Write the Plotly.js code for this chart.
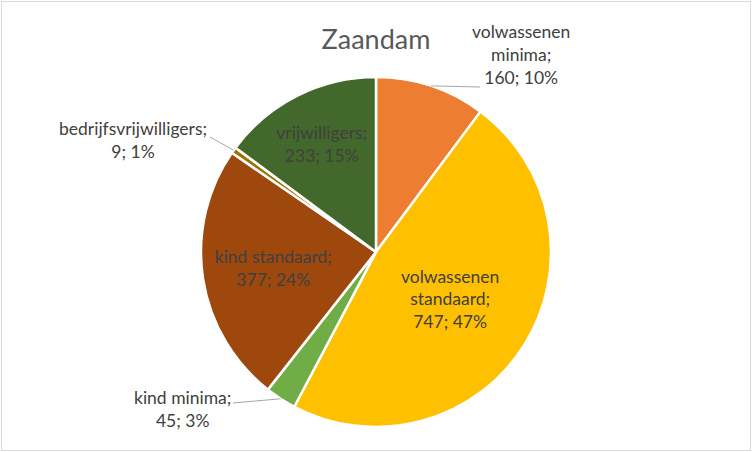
<!DOCTYPE html>
<html>
<head>
<meta charset="utf-8">
<script src="https://cdn.plot.ly/plotly-3.0.1.min.js"></script>
<style>
  html, body { margin: 0; padding: 0; background: #fff; }
  #wrap { position: relative; width: 752px; height: 452px; }
  #chart { width: 752px; height: 452px; }
  #frame { position: absolute; left: 1px; top: 1px; width: 748px; height: 448px; border: 1px solid #D9D9D9; pointer-events: none; }
</style>
</head>
<body>
<div id="wrap"><div id="chart"></div><div id="frame"></div></div>
<script>
const categories = ["volwassenen minima", "volwassenen standaard", "kind minima", "kind standaard", "bedrijfsvrijwilligers", "vrijwilligers"];
const values = [160, 747, 45, 377, 9, 233];
const percentLabels = ["10%", "47%", "3%", "24%", "1%", "15%"];
const labelLines = [
  ["volwassenen", "minima;"],
  ["volwassenen", "standaard;"],
  ["kind minima;"],
  ["kind standaard;"],
  ["bedrijfsvrijwilligers;"],
  ["vrijwilligers;"]
];
const colors = ["#ED7D31", "#FFC000", "#70AD47", "#9E480E", "#997300", "#43682B"];
const insideSlices = [false, true, false, true, false, true];

const W = 752, H = 452, mT = 77, mB = 25;
const plotH = H - mT - mB;
const cx = W / 2, cy = mT + plotH / 2, R = plotH / 2;
const FONT = "Lato, Carlito, sans-serif";

const fullText = categories.map((c, i) => labelLines[i].join("<br>") + "<br>" + values[i] + "; " + percentLabels[i]);

// outside label placement (text centre in px) and leader end (px)
const outsideCfg = {
  0: { tx: 521, ty: 54, ex: 480, ey: 87 },
  2: { tx: 182, ty: 409, ex: 233, ey: 403 },
  4: { tx: 133, ty: 140, ex: 210, ey: 137 }
};

const total = values.reduce((a, b) => a + b, 0);
const toPX = x => x / W;
const toPY = y => (H - mB - y) / plotH;

const annotations = [];
const shapes = [];
let cum = 0;
values.forEach((v, i) => {
  const mid = (cum + v / 2) / total * 2 * Math.PI;
  cum += v;
  if (outsideCfg[i]) {
    const c = outsideCfg[i];
    const px = cx + R * Math.sin(mid), py = cy - R * Math.cos(mid);
    shapes.push({ type: "line", xref: "paper", yref: "paper",
      x0: toPX(px), y0: toPY(py), x1: toPX(c.ex), y1: toPY(c.ey),
      line: { color: "#A6A6A6", width: 1 } });
    annotations.push({ xref: "paper", yref: "paper", x: toPX(c.tx), y: toPY(c.ty),
      xanchor: "center", yanchor: "middle", showarrow: false, align: "center",
      text: fullText[i], font: { family: FONT, size: 17.5, color: "#404040" } });
  }
});

const trace = {
  type: "pie",
  labels: categories,
  values: values,
  text: fullText,
  textinfo: "text",
  hoverinfo: "label+value",
  textposition: insideSlices.map(b => b ? "inside" : "none"),
  insidetextorientation: "horizontal",
  insidetextfont: { family: FONT, size: 17.5, color: "#404040" },
  sort: false,
  direction: "clockwise",
  rotation: 0,
  marker: { colors: colors, line: { color: "#FFFFFF", width: 2.5 } },
  domain: { x: [0, 1], y: [0, 1] }
};

const layout = {
  width: W, height: H,
  margin: { l: 0, r: 0, t: mT, b: mB },
  paper_bgcolor: "#FFFFFF",
  showlegend: false,
  title: { text: "Zaandam", x: 0.5, xanchor: "center", y: 1 - 40 / H, yanchor: "middle",
    font: { family: FONT, size: 27, color: "#595959" } },
  annotations: annotations,
  shapes: shapes
};

Plotly.newPlot("chart", [trace], layout, { displayModeBar: false, staticPlot: true });
</script>
</body>
</html>
